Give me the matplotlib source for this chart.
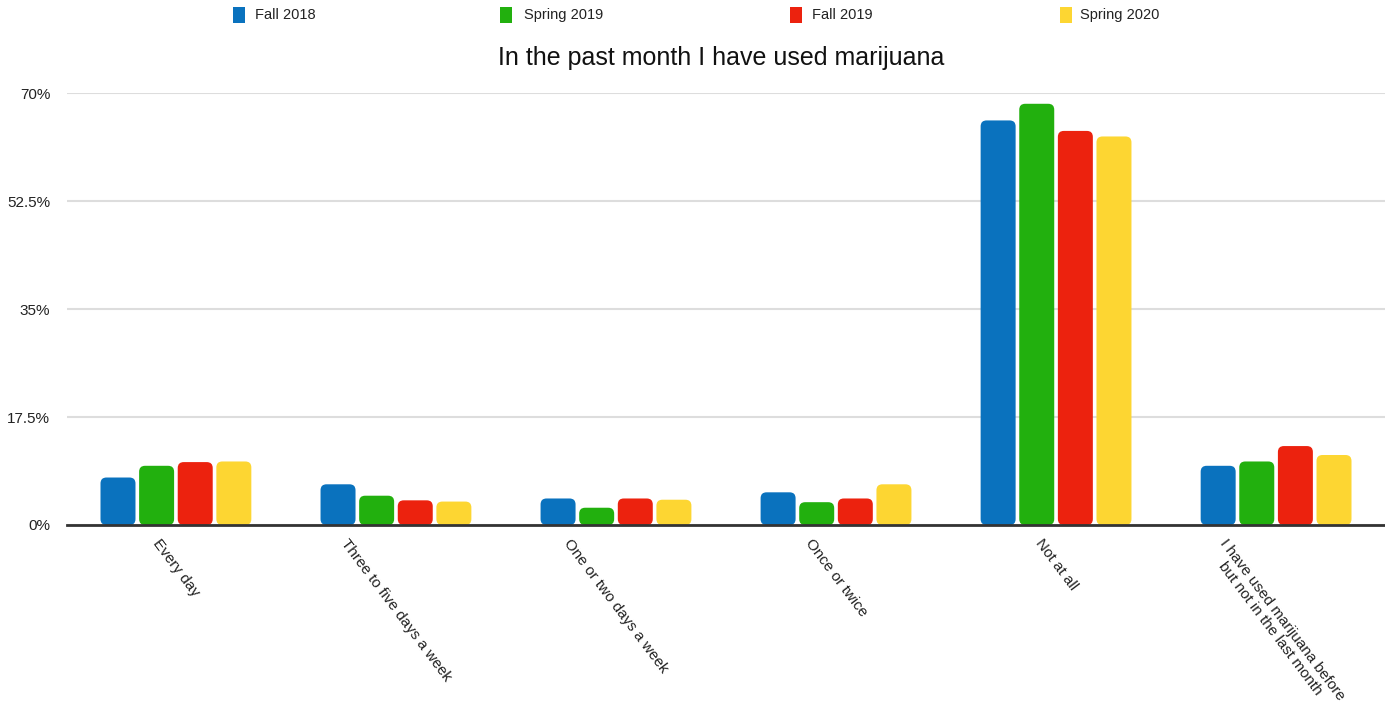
import matplotlib
matplotlib.use("Agg")
import matplotlib.pyplot as plt
from matplotlib import font_manager
from matplotlib.patches import FancyBboxPatch, Rectangle
import numpy as np

categories = ["Every day", "Three to five days a week", "One or two days a week",
              "Once or twice", "Not at all",
              "I have used marijuana before\nbut not in the last month"]
series_names = ["Fall 2018", "Spring 2019", "Fall 2019", "Spring 2020"]
fall_2018 = [7.7, 6.6, 4.3, 5.3, 65.6, 9.6]
spring_2019 = [9.6, 4.75, 2.8, 3.7, 68.3, 10.3]
fall_2019 = [10.2, 4.0, 4.3, 4.3, 63.9, 12.8]
spring_2020 = [10.3, 3.8, 4.1, 6.6, 63.0, 11.35]
series_values = [fall_2018, spring_2019, fall_2019, spring_2020]
colors = ["#0A72BE", "#22B00E", "#EC220E", "#FDD632"]
yticks = [0, 17.5, 35, 52.5, 70]
ytick_labels = ["0%", "17.5%", "35%", "52.5%", "70%"]
title = "In the past month I have used marijuana"

def pick_font(names):
    for n in names:
        try:
            font_manager.findfont(font_manager.FontProperties(family=n), fallback_to_default=False)
            return n
        except Exception:
            pass
    return "DejaVu Sans"

font = pick_font(["Liberation Sans Narrow", "Liberation Sans", "Arial"])
plt.rcParams["font.family"] = [font, "DejaVu Sans"]

W, H = 1385, 712
fig = plt.figure(figsize=(W / 100, H / 100), dpi=100)
ax = fig.add_axes([67 / W, (H - 525) / H, (W - 67) / W, (525 - 93.3) / H])

x = np.arange(len(categories))
bw = 0.159
step = 0.1755
for i, (vals, c) in enumerate(zip(series_values, colors)):
    bars = ax.bar(x + (i - 1.5) * step, vals, width=bw, color=c, zorder=3)
    for r in bars:
        r.set_visible(False)
        fb = FancyBboxPatch((r.get_x(), r.get_y()), r.get_width(), r.get_height(),
                            boxstyle="round,pad=0,rounding_size=0.027",
                            mutation_aspect=35.7, facecolor=c, edgecolor="none", zorder=3)
        ax.add_patch(fb)

ax.set_xlim(-0.495, 5.495)
ax.set_ylim(0, 70)
ax.set_yticks(yticks)
ax.set_yticklabels(ytick_labels, fontsize=11, color="#222222")
ax.yaxis.grid(True, color="#dddddd", linewidth=1.5, zorder=0)
ax.set_axisbelow(True)
ax.tick_params(axis="y", length=0, pad=12)
ax.set_xticks(x)
ax.set_xticklabels(categories, rotation=-53, ha="center", va="top", fontsize=11,
                   color="#222222", linespacing=1.15)
ax.tick_params(axis="x", length=0, pad=8)
for s in ["top", "right", "left"]:
    ax.spines[s].set_visible(False)
ax.spines["bottom"].set_color("#333333")
ax.spines["bottom"].set_linewidth(2)
ax.spines["bottom"].set_zorder(4)

fig.text(721 / W, 1 - 58 / H, title, ha="center", va="center", fontsize=18, color="#111111")

marker_x = [233, 500, 790, 1060]
text_x = [255, 524, 812, 1080]
ly = 15
for mx, tx, name, c in zip(marker_x, text_x, series_names, colors):
    fig.patches.append(Rectangle((mx / W, 1 - (ly + 8) / H), 12 / W, 16 / H,
                                 transform=fig.transFigure, facecolor=c, edgecolor="none"))
    fig.text(tx / W, 1 - ly / H, name, ha="left", va="center", fontsize=10.5, color="#222222")

fig.savefig("out.png", dpi=100)
